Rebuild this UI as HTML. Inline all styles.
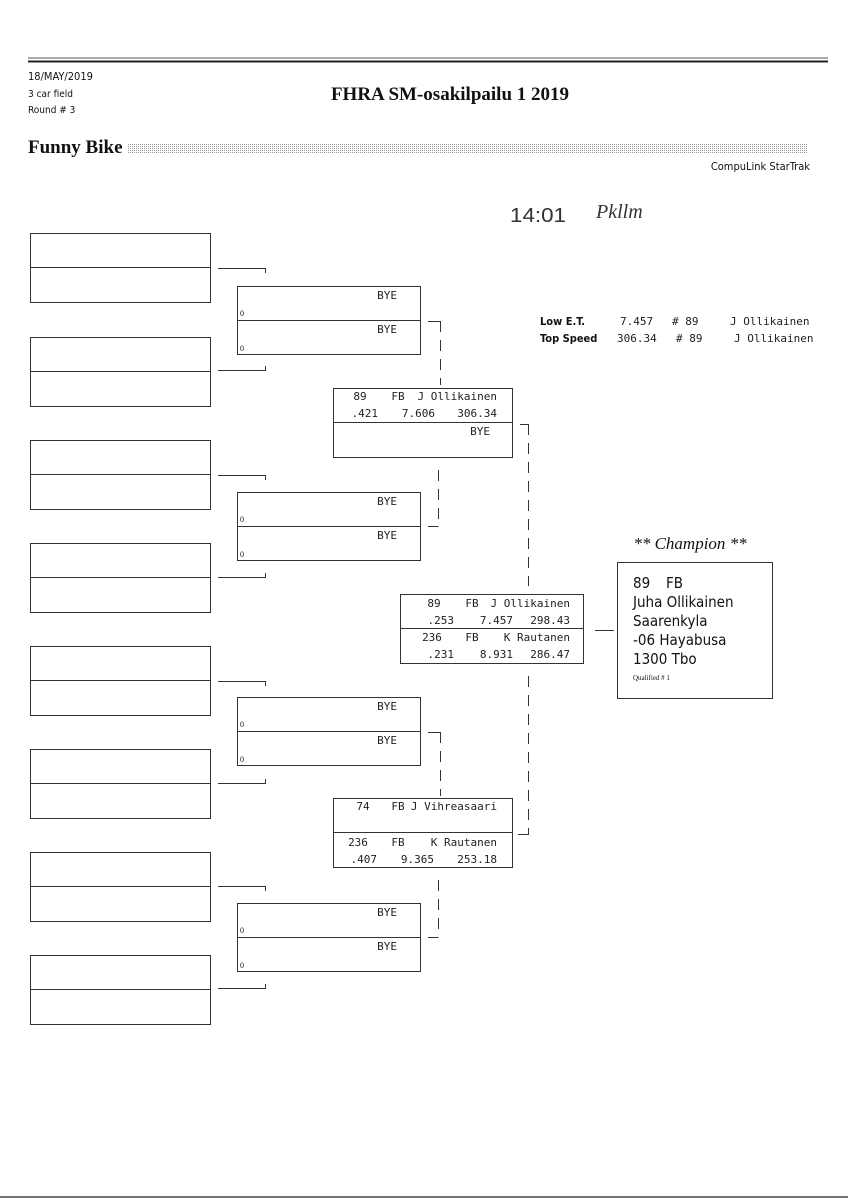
<!DOCTYPE html>
<html><head><meta charset="utf-8"><style>
html,body{margin:0;padding:0;background:#fff;}
svg{display:block}
.m{font-family:"DejaVu Sans Mono","Liberation Mono",monospace;font-size:11px;fill:#222}
.s{font-family:"DejaVu Sans Condensed","Liberation Sans",sans-serif;fill:#111}
.t{font-family:"Liberation Serif",serif;fill:#111;font-weight:bold}
</style></head><body>
<svg width="848" height="1200" viewBox="0 0 848 1200" xmlns="http://www.w3.org/2000/svg">
<defs><pattern id="dots" width="2" height="2" patternUnits="userSpaceOnUse"><rect width="1" height="1" fill="#999"/></pattern></defs>
<line x1="28" y1="58" x2="828" y2="58" stroke="#555" stroke-width="1"/>
<line x1="28" y1="61.5" x2="828" y2="61.5" stroke="#222" stroke-width="2"/>
<text class="s" x="28" y="80" font-size="11">18/MAY/2019</text>
<text class="s" x="28" y="97" font-size="10">3 car field</text>
<text class="s" x="28" y="113" font-size="10">Round # 3</text>
<text class="t" x="450" y="100" font-size="19" text-anchor="middle">FHRA SM-osakilpailu 1 2019</text>
<text class="t" x="28" y="153" font-size="19">Funny Bike</text>
<rect x="128" y="143" width="680" height="10" fill="url(#dots)"/>
<text class="s" x="810" y="170" font-size="11" text-anchor="end">CompuLink StarTrak</text>
<text x="510" y="222" font-family="Liberation Sans,sans-serif" font-size="20" fill="#333" textLength="56" lengthAdjust="spacingAndGlyphs">14:01</text>
<text x="596" y="218" font-family="Liberation Serif,serif" font-style="italic" font-size="20" fill="#333">Pkllm</text>

<g fill="none" stroke="#333" stroke-width="1">
<rect x="30.5" y="233.5" width="180" height="69"/><line x1="30" y1="267.5" x2="210" y2="267.5"/>
<rect x="30.5" y="337.5" width="180" height="69"/><line x1="30" y1="371.5" x2="210" y2="371.5"/>
<rect x="30.5" y="440.5" width="180" height="69"/><line x1="30" y1="474.5" x2="210" y2="474.5"/>
<rect x="30.5" y="543.5" width="180" height="69"/><line x1="30" y1="577.5" x2="210" y2="577.5"/>
<rect x="30.5" y="646.5" width="180" height="69"/><line x1="30" y1="680.5" x2="210" y2="680.5"/>
<rect x="30.5" y="749.5" width="180" height="69"/><line x1="30" y1="783.5" x2="210" y2="783.5"/>
<rect x="30.5" y="852.5" width="180" height="69"/><line x1="30" y1="886.5" x2="210" y2="886.5"/>
<rect x="30.5" y="955.5" width="180" height="69"/><line x1="30" y1="989.5" x2="210" y2="989.5"/>
<path d="M218 268.5H265.5V273M218 370.5H265.5V366"/>
<path d="M218 475.5H265.5V480M218 577.5H265.5V573"/>
<path d="M218 681.5H265.5V686M218 783.5H265.5V779"/>
<path d="M218 886.5H265.5V891M218 988.5H265.5V984"/>
<rect x="237.5" y="286.5" width="183" height="68"/><line x1="237" y1="320.5" x2="420" y2="320.5"/>
<rect x="237.5" y="492.5" width="183" height="68"/><line x1="237" y1="526.5" x2="420" y2="526.5"/>
<rect x="237.5" y="697.5" width="183" height="68"/><line x1="237" y1="731.5" x2="420" y2="731.5"/>
<rect x="237.5" y="903.5" width="183" height="68"/><line x1="237" y1="937.5" x2="420" y2="937.5"/>
<path d="M428 321.5H440.5"/><line x1="440.5" y1="321" x2="440.5" y2="385" stroke-dasharray="11 8"/>
<path d="M428 526.5H438.5"/><line x1="438.5" y1="470" x2="438.5" y2="526" stroke-dasharray="11 8"/>
<path d="M428 732.5H440.5"/><line x1="440.5" y1="732" x2="440.5" y2="796" stroke-dasharray="11 8"/>
<path d="M428 937.5H438.5"/><line x1="438.5" y1="880" x2="438.5" y2="937" stroke-dasharray="11 8"/>
<rect x="333.5" y="388.5" width="179" height="69"/><line x1="333" y1="422.5" x2="512" y2="422.5"/>
<rect x="333.5" y="798.5" width="179" height="69"/><line x1="333" y1="832.5" x2="512" y2="832.5"/>
<path d="M520 424.5H528.5M518 834.5H528.5"/>
<line x1="528.5" y1="424" x2="528.5" y2="586" stroke-dasharray="11 8"/>
<line x1="528.5" y1="676" x2="528.5" y2="835" stroke-dasharray="11 8"/>
<rect x="400.5" y="594.5" width="183" height="69"/><line x1="400" y1="628.5" x2="583" y2="628.5"/>
<line x1="595" y1="630.5" x2="614" y2="630.5"/>
<rect x="617.5" y="562.5" width="155" height="136"/>
</g>

<g class="m">
<text x="397" y="299" text-anchor="end">BYE</text><text x="397" y="333" text-anchor="end">BYE</text>
<text x="397" y="505" text-anchor="end">BYE</text><text x="397" y="539" text-anchor="end">BYE</text>
<text x="397" y="710" text-anchor="end">BYE</text><text x="397" y="744" text-anchor="end">BYE</text>
<text x="397" y="916" text-anchor="end">BYE</text><text x="397" y="950" text-anchor="end">BYE</text>

<text x="360" y="400" text-anchor="middle">89</text><text x="398" y="400" text-anchor="middle">FB</text><text x="497" y="400" text-anchor="end">J Ollikainen</text>
<text x="378" y="417" text-anchor="end">.421</text><text x="435" y="417" text-anchor="end">7.606</text><text x="497" y="417" text-anchor="end">306.34</text>
<text x="490" y="435" text-anchor="end">BYE</text>

<text x="363" y="810" text-anchor="middle">74</text><text x="398" y="810" text-anchor="middle">FB</text><text x="497" y="810" text-anchor="end">J Vihreasaari</text>
<text x="358" y="846" text-anchor="middle">236</text><text x="398" y="846" text-anchor="middle">FB</text><text x="497" y="846" text-anchor="end">K Rautanen</text>
<text x="377" y="863" text-anchor="end">.407</text><text x="434" y="863" text-anchor="end">9.365</text><text x="497" y="863" text-anchor="end">253.18</text>

<text x="434" y="607" text-anchor="middle">89</text><text x="472" y="607" text-anchor="middle">FB</text><text x="570" y="607" text-anchor="end">J Ollikainen</text>
<text x="454" y="624" text-anchor="end">.253</text><text x="513" y="624" text-anchor="end">7.457</text><text x="570" y="624" text-anchor="end">298.43</text>
<text x="432" y="641" text-anchor="middle">236</text><text x="472" y="641" text-anchor="middle">FB</text><text x="570" y="641" text-anchor="end">K Rautanen</text>
<text x="454" y="658" text-anchor="end">.231</text><text x="513" y="658" text-anchor="end">8.931</text><text x="570" y="658" text-anchor="end">286.47</text>

<text x="620" y="325">7.457</text><text x="672" y="325"># 89</text><text x="730" y="325">J Ollikainen</text>
<text x="617" y="342">306.34</text><text x="676" y="342"># 89</text><text x="734" y="342">J Ollikainen</text>
</g>
<g font-family="Liberation Serif,serif" font-size="8" fill="#111">
<text x="240" y="316">0</text><text x="240" y="351">0</text>
<text x="240" y="522">0</text><text x="240" y="557">0</text>
<text x="240" y="727">0</text><text x="240" y="762">0</text>
<text x="240" y="933">0</text><text x="240" y="968">0</text>
</g>
<text class="s" x="540" y="325" font-size="11" font-weight="bold">Low  E.T.</text>
<text class="s" x="540" y="342" font-size="11" font-weight="bold">Top Speed</text>

<text x="690" y="549" font-family="Liberation Serif,serif" font-style="italic" font-size="17" fill="#111" text-anchor="middle">** Champion **</text>
<g class="s" font-size="15">
<text x="633" y="588">89</text><text x="666" y="588">FB</text>
<text x="633" y="607">Juha Ollikainen</text>
<text x="633" y="626">Saarenkyla</text>
<text x="633" y="645">-06 Hayabusa</text>
<text x="633" y="664">1300 Tbo</text>
</g>
<text x="633" y="680" font-family="Liberation Serif,serif" font-size="7" fill="#111">Qualified # 1</text>

<line x1="0" y1="1197" x2="848" y2="1197" stroke="#444" stroke-width="1.5"/>
</svg>
</body></html>
